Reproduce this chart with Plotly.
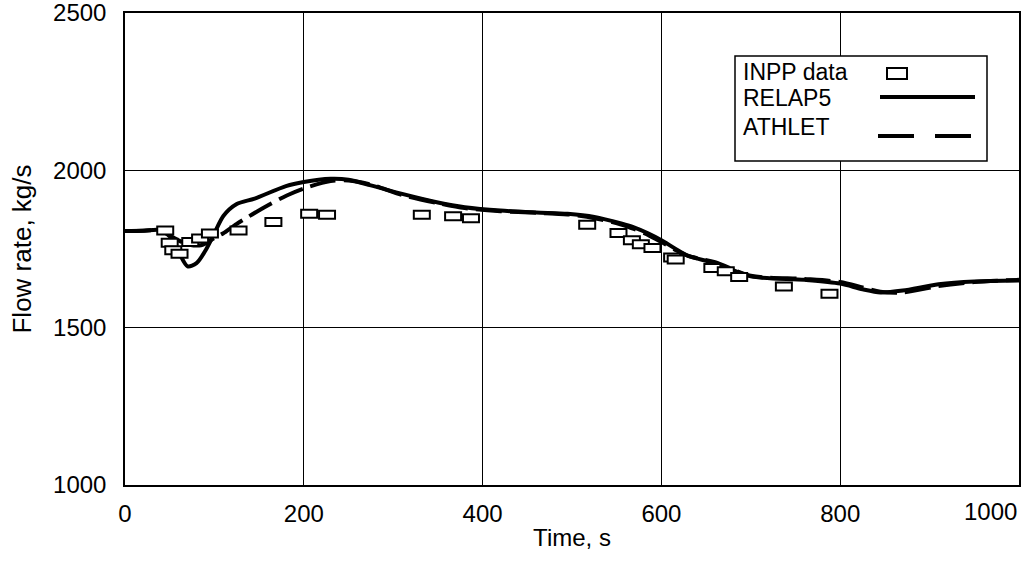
import plotly.graph_objects as go

# Measured coolant flow rate (INPP) and code predictions
inpp_t = [45, 50, 54, 61, 73, 84, 95, 127, 166, 206, 226, 332, 367, 387,
          517, 552, 567, 577, 590, 612, 616, 657, 672, 687, 737, 788]
inpp_q = [1809, 1770, 1746, 1735, 1772, 1783, 1799, 1809, 1836, 1862, 1859, 1859, 1854, 1848,
          1827, 1801, 1778, 1765, 1753, 1723, 1717, 1690, 1679, 1661, 1631, 1608]

relap_t = [0, 20, 40, 50, 60, 70, 80, 90, 100, 110, 125, 145, 180, 200, 230, 250, 275, 310,
           350, 380, 420, 460, 495, 525, 555, 570, 585, 600, 615, 630, 660, 700, 760, 800,
           825, 845, 870, 910, 950, 1000]
relap_q = [1807, 1808, 1810, 1790, 1740, 1695, 1705, 1745, 1800, 1855, 1893, 1910, 1950, 1963,
           1973, 1970, 1952, 1925, 1898, 1883, 1872, 1866, 1862, 1852, 1831, 1818, 1800, 1778,
           1752, 1728, 1705, 1663, 1652, 1640, 1622, 1612, 1618, 1638, 1647, 1650]

athlet_t = [0, 20, 40, 55, 70, 85, 100, 110, 125, 160, 181, 205, 230, 250, 275, 310, 350, 380,
            420, 460, 495, 525, 555, 570, 585, 600, 615, 630, 660, 700, 760, 800, 825, 845,
            870, 910, 950, 1000]
athlet_q = [1807, 1808, 1808, 1785, 1765, 1762, 1785, 1800, 1830, 1889, 1920, 1947, 1966, 1968,
            1955, 1922, 1896, 1880, 1870, 1865, 1860, 1848, 1828, 1813, 1795, 1772, 1748, 1728,
            1708, 1665, 1655, 1645, 1628, 1614, 1612, 1632, 1645, 1652]

x_ticks = [0, 200, 400, 600, 800, 1000]
y_ticks = [1000, 1500, 2000, 2500]

FONT = "Liberation Sans, Arial, sans-serif"
PLOT_L, PLOT_R, PLOT_T, PLOT_B = 125, 1019, 13, 485
W, H = 1029, 561

fig = go.Figure()

fig.add_trace(go.Scatter(
    x=relap_t, y=relap_q, mode="lines", name="RELAP5",
    line=dict(color="black", width=4, shape="spline", smoothing=0.8),
))
fig.add_trace(go.Scatter(
    x=athlet_t, y=athlet_q, mode="lines", name="ATHLET",
    line=dict(color="black", width=4, dash="26px,8px", shape="spline", smoothing=0.8),
))

# INPP measurements: open rectangles anchored at each data point (pixel-sized)
shapes = [
    dict(type="rect", xref="x", yref="y", xsizemode="pixel", ysizemode="pixel",
         xanchor=t, yanchor=q, x0=-8, x1=8, y0=-4, y1=4,
         line=dict(color="black", width=2), fillcolor="white", layer="above")
    for t, q in zip(inpp_t, inpp_q)
]

# Legend box with text on the left and samples on the right
def px_x(px):
    return (px - PLOT_L) / (PLOT_R - PLOT_L)

def px_y(py):
    return (PLOT_B - py) / (PLOT_B - PLOT_T)

shapes += [
    dict(type="rect", xref="paper", yref="paper",
         x0=px_x(735), x1=px_x(987), y0=px_y(161), y1=px_y(56),
         line=dict(color="black", width=1.5), fillcolor="white", layer="above"),
    dict(type="rect", xref="paper", yref="paper",
         x0=px_x(887), x1=px_x(907), y0=px_y(79), y1=px_y(68),
         line=dict(color="black", width=2), fillcolor="white", layer="above"),
    dict(type="line", xref="paper", yref="paper",
         x0=px_x(880), x1=px_x(975), y0=px_y(97), y1=px_y(97),
         line=dict(color="black", width=4), layer="above"),
    dict(type="line", xref="paper", yref="paper",
         x0=px_x(878), x1=px_x(971), y0=px_y(136), y1=px_y(136),
         line=dict(color="black", width=4, dash="36px,21px"), layer="above"),
]
annotations = [
    dict(text=label, xref="paper", yref="paper", x=px_x(741), y=px_y(py),
         xanchor="left", yanchor="middle", showarrow=False,
         font=dict(family=FONT, size=23, color="black"))
    for label, py in [("INPP data", 72), ("RELAP5", 98), ("ATHLET", 127)]
]
# last x tick label sits flush with the right edge of the frame
annotations.append(dict(
    text=str(x_ticks[-1]), xref="x", yref="paper", x=x_ticks[-1], y=px_y(511),
    xanchor="right", yanchor="middle", showarrow=False,
    font=dict(family=FONT, size=24, color="black"),
))

axis_common = dict(
    showgrid=True, gridcolor="black", gridwidth=1,
    showline=True, linecolor="black", linewidth=1.5, mirror=True,
    zeroline=False, ticks="", automargin=False, ticklabeloverflow="allow",
    tickfont=dict(family=FONT, size=24, color="black"),
)

fig.update_layout(
    width=W, height=H,
    margin=dict(l=PLOT_L, r=W - PLOT_R, t=PLOT_T, b=H - PLOT_B),
    paper_bgcolor="white", plot_bgcolor="white",
    showlegend=False,
    shapes=shapes, annotations=annotations,
    xaxis=dict(range=[0, 1000], tickvals=x_ticks[:-1], ticklabelstandoff=6,
               title=dict(text="Time, s", standoff=4,
                          font=dict(family=FONT, size=24, color="black")),
               **axis_common),
    yaxis=dict(range=[1000, 2500], tickvals=y_ticks, ticklabelstandoff=12,
               title=dict(text="Flow rate, kg/s", standoff=14,
                          font=dict(family=FONT, size=26, color="black")),
               **axis_common),
)

fig.write_html("out.html")
